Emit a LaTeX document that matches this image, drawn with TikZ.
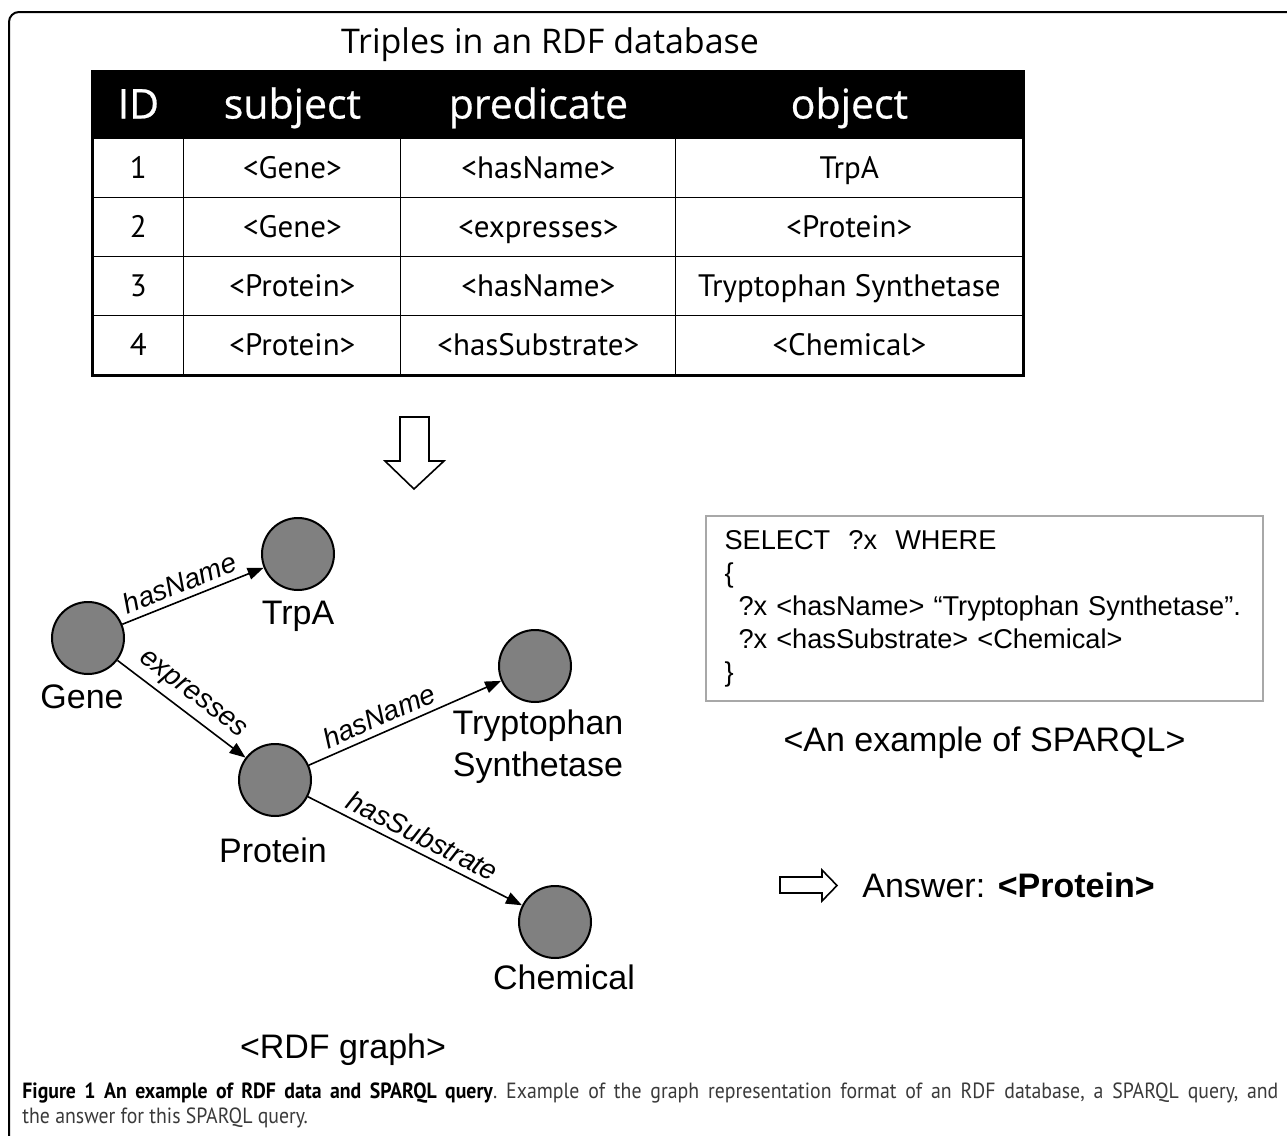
\documentclass[tikz,border=0pt]{standalone}
\usepackage{fontspec}
\setmainfont{Liberation Sans}
\newfontfamily\hdrfont[FakeBold=0.6]{Open Sans}
\newfontfamily\titlefont{Open Sans}
\newfontfamily\cellfont{PT Sans}
\newfontfamily\capfont[FakeStretch=0.9]{PT Sans}
\usetikzlibrary{matrix,positioning,arrows.meta}
\definecolor{nodegray}{HTML}{808080}
\definecolor{boxgray}{HTML}{A8A8A8}
\definecolor{captext}{HTML}{3A3A3A}

\begin{document}
\begin{tikzpicture}[x=0.5pt,y=-0.5pt,
  gnode/.style={circle,draw,line width=1pt,fill=nodegray,minimum size=36pt,inner sep=0pt},
  nlabel/.style={inner sep=0pt,align=center,font=\fontsize{17}{21}\selectfont},
  elabel/.style={sloped,above,inner sep=3pt,font=\fontsize{14}{16}\selectfont\itshape},
  edge/.style={line width=0.8pt,-{Triangle[length=8pt,width=6pt]}},
  hollow/.style={draw,line width=0.8pt,fill=white}]
\useasboundingbox (0,0) rectangle (1287,1136);
% frame
\draw[line width=1pt,rounded corners=5pt] (9,1150) -- (9,12) -- (1300,12);

% table of triples
\node[font=\titlefont\fontsize{17}{20}\selectfont] (title) at (550,45) {Triples in an RDF database};
\matrix (m) [matrix of nodes, anchor=north west, inner sep=0pt, row sep=-0.5pt, column sep=-0.5pt,
  nodes={draw,line width=0.5pt,minimum height=29.5pt,inner sep=0pt,anchor=center,
         text height=10.8pt,text depth=0.4pt,font=\cellfont\fontsize{15.5}{18}\selectfont},
  column 1/.style={nodes={minimum width=45.5pt}},
  column 2/.style={nodes={minimum width=108.5pt}},
  column 3/.style={nodes={minimum width=137.5pt}},
  column 4/.style={nodes={minimum width=173.5pt}},
  row 1/.style={nodes={fill=black,text=white,minimum height=33.5pt,text height=13.5pt,
                       font=\hdrfont\fontsize{20.5}{24}\selectfont}}]
  at (92,71)
{ ID & subject   & predicate      & object                \\
  1  & <Gene>    & <hasName>      & TrpA                  \\
  2  & <Gene>    & <expresses>    & <Protein>             \\
  3  & <Protein> & <hasName>      & Tryptophan Synthetase \\
  4  & <Protein> & <hasSubstrate> & <Chemical>            \\
};
\draw[line width=1.2pt] (m-1-1.north west) rectangle (m-5-4.south east);

% down arrow
\draw[hollow] (400,417) -- (429,417) -- (429,461) -- (444,461) -- (414,489) -- (385,461) -- (400,461) -- cycle;

% RDF graph
\node[gnode] (gene)    at (88,638)  {};
\node[gnode] (trpa)    at (298,554) {};
\node[gnode] (protein) at (275,780) {};
\node[gnode] (trypto)  at (535,666) {};
\node[gnode] (chem)    at (555,922) {};

\node[nlabel, below=4.5pt of gene, xshift=-3pt]   (genetxt)    {Gene};
\node[nlabel, below=5pt of trpa]                  (trpatxt)    {TrpA};
\node[nlabel, below=10pt of protein, xshift=-1pt] (proteintxt) {Protein};
\node[nlabel, below=3pt of trypto, xshift=1.5pt]  (typtotxt)   {Tryptophan\\Synthetase};
\node[nlabel, below=2.5pt of chem, xshift=4.5pt]  (chemtxt)    {Chemical};

\draw[edge] (gene)    -- node[elabel,pos=0.45] {hasName}      (trpa);
\draw[edge] (gene)    -- node[elabel]          {expresses}    (protein);
\draw[edge] (protein) -- node[elabel,pos=0.4]  {hasName}      (trypto);
\draw[edge] (protein) -- node[elabel]          {hasSubstrate} (chem);

\node[nlabel] (rdfcap) at (343,1050) {<RDF graph>};

% SPARQL query
\node[draw=boxgray,line width=1pt,anchor=north west,minimum width=278.5pt,minimum height=92.5pt,
      inner xsep=8.5pt,text width=260pt,align=left,font=\fontsize{13.6}{16.5}\selectfont] (query) at (705,515)
{SELECT\ \ ?x\ \ WHERE\\
 \{\\
 \hspace*{7pt}?x <hasName> “Tryptophan Synthetase”.\\
 \hspace*{7pt}?x <hasSubstrate> <Chemical>\\
 \}};
\node[nlabel, below=12pt of query] (querycap) {<An example of SPARQL>};

% answer
\draw[hollow] (780,877) -- (822,877) -- (822,870) -- (837,885.5) -- (822,901) -- (822,893) -- (780,893) -- cycle;
\node[nlabel, anchor=west] (answer) at (862,885) {Answer: \textbf{<Protein>}};

% caption
\node[anchor=north west,inner sep=0pt,text width=628pt,align=justify,text=captext,
      font=\capfont\fontsize{11}{12.5}\selectfont\frenchspacing] (caption) at (22,1082)
{\textcolor{black}{\textbf{Figure 1 An example of RDF data and SPARQL query}}. Example of the graph representation format of an RDF database, a SPARQL query, and\linebreak the answer for this SPARQL query.};
\end{tikzpicture}
\end{document}
